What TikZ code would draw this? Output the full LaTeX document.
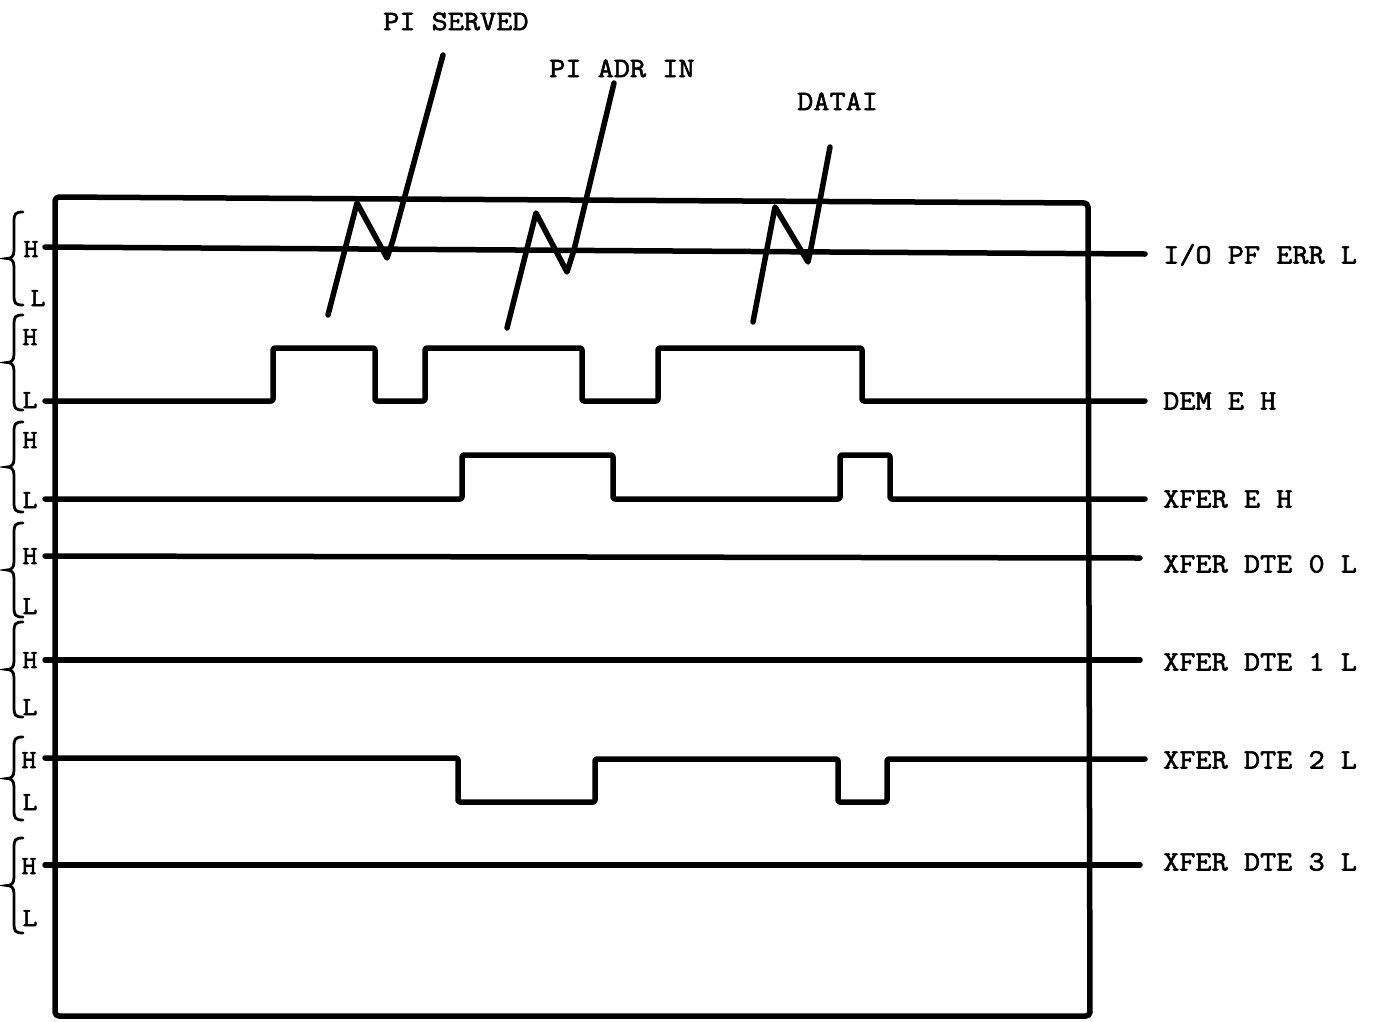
\documentclass[tikz,border=0pt]{standalone}
\usepackage{fontspec}
\newfontfamily\tw{Latin Modern Mono}[FakeBold=2,FakeStretch=1.12]
\newcommand\mybrace[2]{%
  \draw[brc] (23,{#1}) .. controls (15,{#1}) and (14,{#1+2}) .. (14,{#1+10})
    -- (14,{(#1+#2)/2-8}) .. controls (14,{(#1+#2)/2-2}) and (11,{(#1+#2)/2}) .. (7,{(#1+#2)/2})
    .. controls (11,{(#1+#2)/2}) and (14,{(#1+#2)/2+2}) .. (14,{(#1+#2)/2+8})
    -- (14,{#2-10}) .. controls (14,{#2-2}) and (15,{#2}) .. (23,{#2});}
\begin{document}
\begin{tikzpicture}[x=1pt,y=-1pt,
  sig/.style={line width=5.5pt, line cap=round, line join=round, rounded corners=2pt},
  frm/.style={line width=5.5pt, line join=round, rounded corners=4pt},
  ptr/.style={line width=5.5pt, line cap=round, line join=round},
  brc/.style={line width=2.8pt, line cap=round},
  lab/.style={font=\tw\fontsize{28}{30}\selectfont, inner sep=0pt, anchor=base west},
  hl/.style={font=\tw\fontsize{26}{28}\selectfont, inner sep=0pt, anchor=base}]
\useasboundingbox (0,0) rectangle (1385,1021);
\fill[white] (0,0) rectangle (1385,1021);

% frame
\draw[frm] (55,197) -- (1088,203) -- (1090,1016) -- (55,1016) -- cycle;

% braces
\mybrace{212}{305}
\mybrace{315}{410}
\mybrace{422}{512}
\mybrace{523}{617}
\mybrace{622}{717}
\mybrace{737}{820}
\mybrace{838}{933}

% H / L letters
\node[hl] (h1) at (31,257) {H};  \node[hl] (l1) at (38,306) {L};
\node[hl] (h2) at (30,345) {H};  \node[hl] (l2) at (30,408) {L};
\node[hl] (h3) at (30,448) {H};  \node[hl] (l3) at (30,508) {L};
\node[hl] (h4) at (30,564) {H};  \node[hl] (l4) at (30,614) {L};
\node[hl] (h5) at (30,668) {H};  \node[hl] (l5) at (30,715) {L};
\node[hl] (h6) at (29,768) {H};  \node[hl] (l6) at (30,810) {L};
\node[hl] (h7) at (29,874) {H};  \node[hl] (l7) at (30,926) {L};

% traces
\draw[sig] (45,247) -- (1145,254);
\draw[sig] (45,401) -- (273,401) -- (273,348) -- (375,348) -- (375,401) -- (425,401)
  -- (425,348) -- (582,348) -- (582,401) -- (658,401) -- (658,348) -- (862,348)
  -- (862,401) -- (1145,401);
\draw[sig] (45,499) -- (462,499) -- (462,455) -- (613,455) -- (613,499) -- (840,499)
  -- (840,455) -- (890,455) -- (890,499) -- (1145,499);
\draw[sig] (45,556) -- (1140,558);
\draw[sig] (45,660) -- (1140,660);
\draw[sig] (45,758) -- (458,758) -- (458,802) -- (595,802) -- (595,759) -- (838,759)
  -- (838,802) -- (887,802) -- (887,759) -- (1145,759);
\draw[sig] (45,865) -- (1140,865);

% glitch pointers
\draw[ptr] (328,315) -- (357,203) -- (387,258) -- (393,240) -- (443,55);
\draw[ptr] (507,328) -- (536,213) -- (567,272) -- (574,250) -- (614,83);
\draw[ptr] (753,322) -- (775,207) -- (808,262) -- (812,243) -- (830,147);

% top labels
\node[lab] (pis) at (383,30) {PI SERVED};
\node[lab] (pai) at (549,77) {PI ADR IN};
\node[lab] (dat) at (797,110) {DATAI};

% signal names
\node[lab] (s1) at (1163,263.5) {I/O PF ERR L};
\node[lab] (s2) at (1163,409.5) {DEM E H};
\node[lab] (s3) at (1163,507.5) {XFER E H};
\node[lab] (s4) at (1163,572.5) {XFER DTE 0 L};
\node[lab] (s5) at (1163,670.5) {XFER DTE 1 L};
\node[lab] (s6) at (1163,768.5) {XFER DTE 2 L};
\node[lab] (s7) at (1163,870.5) {XFER DTE 3 L};
\end{tikzpicture}
\end{document}
